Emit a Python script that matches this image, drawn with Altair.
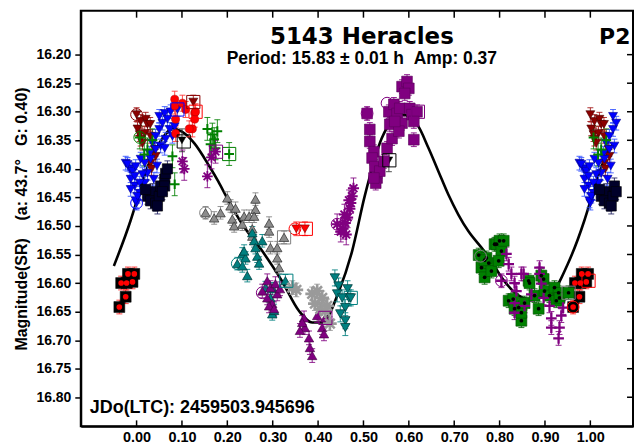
import altair as alt
import pandas as pd

# ---------------- data ----------------
x_ticks = [0.00, 0.10, 0.20, 0.30, 0.40, 0.50, 0.60, 0.70, 0.80, 0.90, 1.00]
y_ticks = [16.20, 16.25, 16.30, 16.35, 16.40, 16.45, 16.50, 16.55, 16.60, 16.65, 16.70, 16.75, 16.80]

curve_x = [-0.05, -0.013, 0.0, 0.025, 0.05, 0.08, 0.10, 0.127, 0.16, 0.18, 0.20, 0.233, 0.277, 0.32,
           0.358, 0.387, 0.409, 0.446, 0.475, 0.503, 0.54, 0.585, 0.618, 0.643, 0.665, 0.687, 0.709,
           0.731, 0.760, 0.782, 0.80, 0.864, 0.914, 0.95, 0.987, 1.0, 1.025, 1.05]
curve_y = [16.57, 16.49, 16.457, 16.395, 16.355, 16.33, 16.335, 16.355, 16.395, 16.422, 16.452, 16.497,
           16.544, 16.596, 16.649, 16.669, 16.669, 16.614, 16.544, 16.447, 16.347, 16.305, 16.322, 16.363,
           16.404, 16.445, 16.48, 16.509, 16.538, 16.561, 16.585, 16.628, 16.617, 16.567, 16.49, 16.457,
           16.395, 16.355]

rb_x = [0.962, 0.976, 0.966, 0.981, 0.995, 0.991, 0.978]
rb_y = [16.642, 16.624, 16.600, 16.584, 16.584, 16.598, 16.600]

bl_x = [0.000, -0.024, -0.015, -0.009, -0.002, -0.013, -0.004, 0.007, -0.002, 0.018, 0.024, 0.018, 0.029,
        0.035, 0.042, 0.050, 0.057, 0.050, 0.062, 0.068, 0.075, 0.073, 0.064, 0.053, 0.042, 0.062, 0.084,
        0.079, 0.031, 0.009, 0.013, 0.007, -0.004, -0.020, -0.013, 0.002, 0.045, 0.038, 0.026, 0.090]
bl_y = [16.460, 16.390, 16.400, 16.404, 16.396, 16.418, 16.430, 16.443, 16.456, 16.425, 16.408, 16.390, 16.373,
        16.355, 16.343, 16.331, 16.320, 16.308, 16.303, 16.313, 16.300, 16.331, 16.348, 16.360, 16.366, 16.364,
        16.326, 16.343, 16.383, 16.383, 16.410, 16.425, 16.413, 16.392, 16.436, 16.448, 16.395, 16.418, 16.440,
        16.296]

dr_x = [0.000, 0.009, 0.020, 0.024, 0.002, 0.030, 0.007, 0.018, 0.031, 0.009, 0.040, 0.042, 0.031, 0.013,
        0.033, 0.125]
dr_y = [16.305, 16.317, 16.313, 16.322, 16.330, 16.322, 16.340, 16.338, 16.343, 16.348, 16.366, 16.378, 16.390,
        16.355, 16.400, 16.283]

bk_x = [0.024, 0.035, 0.031, 0.042, 0.050, 0.053, 0.062, 0.064, 0.068, 0.062, 0.046, 0.020, 0.057]
bk_y = [16.448, 16.440, 16.456, 16.460, 16.448, 16.430, 16.418, 16.408, 16.400, 16.430, 16.465, 16.436, 16.440]

gp_x = [0.007, 0.024, 0.035, 0.079, 0.084, 0.156, 0.167, 0.171, 0.163, 0.174, 0.178, 0.017, 0.204]
gp_y = [16.345, 16.366, 16.350, 16.378, 16.427, 16.330, 16.340, 16.348, 16.357, 16.364, 16.334, 16.375, 16.374]

rc_x = [0.084, 0.084, 0.101, 0.108, 0.128, 0.128, 0.123, 0.116, 0.086, 0.086, 0.130]
rc_y = [16.278, 16.290, 16.285, 16.296, 16.302, 16.313, 16.330, 16.330, 16.313, 16.338, 16.300]

pa_x = [0.101, 0.105, 0.156, 0.165, 0.174]
pa_y = [16.387, 16.400, 16.413, 16.380, 16.370]

gt_x = [0.152, 0.171, 0.185, 0.200, 0.207, 0.211, 0.218, 0.215, 0.237, 0.233, 0.248, 0.262, 0.262, 0.259,
        0.255, 0.255, 0.292, 0.292, 0.295, 0.310, 0.310, 0.314, 0.325]
gt_y = [16.477, 16.486, 16.477, 16.451, 16.465, 16.488, 16.469, 16.500, 16.483, 16.497, 16.483, 16.453, 16.471,
        16.483, 16.505, 16.518, 16.495, 16.509, 16.538, 16.538, 16.556, 16.573, 16.520]

tt_x = [0.222, 0.233, 0.233, 0.244, 0.240, 0.237, 0.255, 0.259, 0.262, 0.266, 0.270, 0.277, 0.284, 0.295,
        0.299, 0.299, 0.303, 0.328]
tt_y = [16.566, 16.549, 16.570, 16.587, 16.556, 16.544, 16.512, 16.526, 16.538, 16.553, 16.565, 16.526, 16.608,
        16.626, 16.610, 16.654, 16.648, 16.596]

pt_x = [0.277, 0.288, 0.295, 0.288, 0.299, 0.310, 0.306, 0.316, 0.369, 0.371, 0.380, 0.382, 0.387, 0.360,
        0.365, 0.398, 0.409, 0.413, 0.292, 0.303, 0.416]
pt_y = [16.614, 16.596, 16.608, 16.626, 16.636, 16.619, 16.601, 16.610, 16.661, 16.678, 16.696, 16.713, 16.727,
        16.683, 16.669, 16.657, 16.678, 16.689, 16.640, 16.645, 16.661]

ga_x = [0.343, 0.387, 0.393, 0.409, 0.416, 0.426, 0.398, 0.405, 0.420, 0.352]
ga_y = [16.608, 16.619, 16.636, 16.626, 16.649, 16.671, 16.614, 16.645, 16.640, 16.612]

td_x = [0.437, 0.442, 0.453, 0.460, 0.460, 0.449, 0.468, 0.445, 0.465, 0.460, 0.472]
td_y = [16.591, 16.619, 16.626, 16.643, 16.666, 16.654, 16.626, 16.605, 16.610, 16.678, 16.626]

rd_x = [0.352, 0.371]
rd_y = [16.505, 16.505]

kt_x = [0.100, 0.556]
kt_y = [16.350, 16.385]

ps_x = [0.508, 0.514, 0.514, 0.523, 0.519, 0.525, 0.530, 0.527, 0.536, 0.545, 0.552, 0.563, 0.558, 0.556,
        0.567, 0.574, 0.580, 0.585, 0.596, 0.600, 0.591, 0.585, 0.578, 0.602, 0.607, 0.618, 0.611, 0.611,
        0.569, 0.523]
ps_y = [16.303, 16.331, 16.352, 16.370, 16.381, 16.396, 16.416, 16.425, 16.404, 16.387, 16.364, 16.347, 16.322,
        16.300, 16.287, 16.303, 16.294, 16.256, 16.247, 16.259, 16.268, 16.320, 16.334, 16.294, 16.305, 16.300,
        16.317, 16.349, 16.317, 16.416]

pa2_x = [0.442, 0.455, 0.460, 0.465, 0.470, 0.475, 0.478, 0.450, 0.462, 0.458, 0.468, 0.472]
pa2_y = [16.497, 16.505, 16.495, 16.485, 16.470, 16.448, 16.434, 16.510, 16.515, 16.480, 16.455, 16.460]

gs_x = [0.754, 0.760, 0.767, 0.776, 0.771, 0.782, 0.789, 0.793, 0.800, 0.804, 0.798, 0.809, 0.767, 0.820,
        0.830, 0.833, 0.842, 0.848, 0.848, 0.855, 0.864, 0.866, 0.877, 0.886, 0.892, 0.897, 0.899, 0.910,
        0.921, 0.930, 0.925, 0.932, 0.952]
gs_y = [16.551, 16.573, 16.590, 16.565, 16.556, 16.579, 16.532, 16.532, 16.526, 16.544, 16.561, 16.526, 16.560,
        16.631, 16.628, 16.645, 16.643, 16.666, 16.652, 16.635, 16.596, 16.600, 16.622, 16.645, 16.587, 16.593,
        16.614, 16.622, 16.608, 16.617, 16.631, 16.626, 16.617]

pp_x = [0.804, 0.815, 0.820, 0.826, 0.833, 0.837, 0.853, 0.833, 0.833, 0.855, 0.888, 0.892, 0.897, 0.910,
        0.914, 0.914, 0.932, 0.930, 0.936, 0.940, 0.888, 0.848, 0.870]
pp_y = [16.596, 16.549, 16.567, 16.584, 16.600, 16.614, 16.584, 16.635, 16.652, 16.640, 16.584, 16.601, 16.626,
        16.640, 16.662, 16.678, 16.678, 16.697, 16.657, 16.643, 16.573, 16.584, 16.620]

# typical error (mag) of each session
err = {"rb": 0.012, "bl": 0.012, "dr": 0.012, "bk": 0.014, "gp": 0.02, "rc": 0.014, "pa": 0.02,
       "gt": 0.011, "tt": 0.011, "pt": 0.012, "ga": 0.012, "td": 0.014, "rd": 0.012, "kt": 0.02,
       "ps": 0.012, "pa2": 0.018, "gs": 0.012, "pp": 0.012}

# first (circled) and last (boxed) observation of sessions
circ_x = [0.962, 0.000, 0.007, 0.000, 0.152, 0.222, 0.277, 0.349, 0.442, 0.508, 0.552, 0.758, 0.804]
circ_y = [16.642, 16.305, 16.345, 16.460, 16.477, 16.566, 16.617, 16.505, 16.497, 16.303, 16.285, 16.553, 16.596]
circ_g = ["rb", "dr", "gp", "bl", "gt", "tt", "pt", "rd", "pa2", "ps", "ps", "gs", "pp"]
sq_x = [0.996, 0.125, 0.130, 0.090, 0.104, 0.557, 0.204, 0.175, 0.325, 0.330, 0.373, 0.472, 0.416, 0.620, 0.952]
sq_y = [16.596, 16.283, 16.300, 16.296, 16.352, 16.385, 16.374, 16.370, 16.520, 16.596, 16.505, 16.626,
        16.661, 16.300, 16.617]
sq_g = ["rb", "dr", "rc", "bl", "kt", "kt", "gp", "pa", "gt", "tt", "rd", "td", "pt", "ps", "gs"]

# ---------------- styles ----------------
PLUS = "M-1,0L1,0M0,-1L0,1"
STAR = "M-1,0L1,0M0,-1L0,1M-0.7,-0.7L0.7,0.7M-0.7,0.7L0.7,-0.7"
STYLE = {
    "rb": dict(shape="square", size=120, fill="#000000", stroke="#000000", sw=0.5, ecol="#ff2020", ann="#ff0000"),
    "bl": dict(shape="triangle-down", size=80, fill="#0000ff", stroke="#00008b", sw=0.6, ecol="#3050ff", ann="#0000ff"),
    "dr": dict(shape="triangle-down", size=80, fill="#8b0000", stroke="#4a0000", sw=0.6, ecol="#a01010", ann="#8b0000"),
    "bk": dict(shape="square", size=105, fill="#00002a", stroke="#000000", sw=0.6, ecol="#202060", ann="#000000"),
    "gp": dict(shape=PLUS, size=95, fill="transparent", stroke="#008000", sw=2.0, ecol="#008000", ann="#008000"),
    "rc": dict(shape="circle", size=65, fill="#ff0000", stroke="#b00000", sw=0.5, ecol="#ff3030", ann="#ff0000"),
    "pa": dict(shape=STAR, size=115, fill="transparent", stroke="#800080", sw=1.8, ecol="#800080", ann="#800080"),
    "gt": dict(shape="triangle-up", size=90, fill="#8c8c8c", stroke="#3a3a3a", sw=0.8, ecol="#808080", ann="#808080"),
    "tt": dict(shape="triangle-up", size=90, fill="#008080", stroke="#004040", sw=0.8, ecol="#008080", ann="#008080"),
    "pt": dict(shape="triangle-up", size=90, fill="#800080", stroke="#400040", sw=0.6, ecol="#800080", ann="#800080"),
    "ga": dict(shape=STAR, size=190, fill="transparent", stroke="#9a9a9a", sw=2.6, ecol="#9a9a9a", ann="#808080"),
    "td": dict(shape="triangle-down", size=90, fill="#008080", stroke="#004040", sw=0.8, ecol="#008080", ann="#008080"),
    "rd": dict(shape="triangle-down", size=80, fill="#ff0000", stroke="#800000", sw=0.6, ecol="#ff2020", ann="#ff0000"),
    "kt": dict(shape="triangle-down", size=60, fill="#000000", stroke="#000000", sw=0.5, ecol="#303030", ann="#000000"),
    "ps": dict(shape="square", size=115, fill="#800080", stroke="#5a005a", sw=0.6, ecol="#800080", ann="#800080"),
    "pa2": dict(shape=STAR, size=125, fill="transparent", stroke="#800080", sw=2.0, ecol="#800080", ann="#800080"),
    "gs": dict(shape="square", size=120, fill="#008000", stroke="#004d00", sw=0.6, ecol="#006400", ann="#808080"),
    "pp": dict(shape=PLUS, size=115, fill="transparent", stroke="#800080", sw=2.3, ecol="#800080", ann="#800080"),
}
INNER = {"rb": ("#ff0000", 32), "gs": ("#000000", 14)}

groups = [("rb", rb_x, rb_y), ("dr", dr_x, dr_y), ("bl", bl_x, bl_y), ("bk", bk_x, bk_y),
          ("rc", rc_x, rc_y), ("gp", gp_x, gp_y), ("pa", pa_x, pa_y), ("gt", gt_x, gt_y),
          ("tt", tt_x, tt_y), ("pt", pt_x, pt_y), ("ga", ga_x, ga_y), ("td", td_x, td_y),
          ("rd", rd_x, rd_y), ("kt", kt_x, kt_y), ("pa2", pa2_x, pa2_y), ("ps", ps_x, ps_y),
          ("gs", gs_x, gs_y), ("pp", pp_x, pp_y)]

rows, inner_rows = [], []
for g, xs_, ys_ in groups:
    st = STYLE[g]
    for xv, yv in zip(xs_, ys_):
        p = round(xv % 1.0, 4)
        pos = [p]
        if p >= 0.955:
            pos.append(round(p - 1.0, 4))
        if p <= 0.06:
            pos.append(round(p + 1.0, 4))
        for px in pos:
            rows.append(dict(g=g, x=px, y=yv, lo=yv - err[g], hi=yv + err[g], shape=st["shape"],
                             size=st["size"], fill=st["fill"], stroke=st["stroke"], sw=st["sw"],
                             ecol=st["ecol"]))
            if g in INNER:
                inner_rows.append(dict(x=px, y=yv, col=INNER[g][0], size=INNER[g][1]))
df = pd.DataFrame(rows)
df_inner = pd.DataFrame(inner_rows)
df_circ = pd.DataFrame({"x": circ_x, "y": circ_y, "col": [STYLE[g]["ann"] for g in circ_g]})
df_sq = pd.DataFrame({"x": sq_x, "y": sq_y, "col": [STYLE[g]["ann"] for g in sq_g]})
df_curve = pd.DataFrame({"x": curve_x, "y": curve_y})

# ---------------- chart ----------------
W, H = 554, 417
xs = alt.Scale(domain=[-0.123, 1.094], nice=False, zero=False)
ys = alt.Scale(domain=[16.123, 16.851], nice=False, zero=False, reverse=True)
FONT = "Liberation Sans"
NB = "\u00a0"
Y_TITLE = f"Magnitude(SR){NB}{NB}{NB}{NB}(a:{NB}43.7°{NB}{NB}{NB}G:{NB}0.40)"

x_axis = alt.Axis(values=x_ticks, format=".2f", labelFont=FONT, labelFontSize=14.5, labelFontWeight="bold",
                  labelColor="black", ticks=False, labelPadding=4, domainColor="black", domainWidth=2,
                  grid=False, title=None)
y_axis = alt.Axis(values=y_ticks, format=".2f", labelFont=FONT, labelFontSize=14, labelFontWeight="bold",
                  labelColor="black", tickSize=6, tickColor="black", tickWidth=1.5, labelPadding=4,
                  domainColor="black", domainWidth=2, grid=False,
                  title=Y_TITLE, titleFont=FONT, titleFontSize=16,
                  titleFontWeight="bold", titleColor="black", titlePadding=6)


def X(f="x"):
    return alt.X(f"{f}:Q", scale=xs, axis=x_axis, title=None)


def Y(f="y"):
    return alt.Y(f"{f}:Q", scale=ys, axis=y_axis, title=Y_TITLE)


curve = alt.Chart(df_curve).mark_line(color="black", strokeWidth=2.6, interpolate="monotone").encode(
    x=X(), y=Y(), order="x:Q")

ebar = alt.Chart(df).mark_rule(strokeWidth=1, opacity=0.85).encode(
    x=X(), y=Y("lo"), y2="hi:Q", color=alt.Color("ecol:N", scale=None))
cap_lo = alt.Chart(df).mark_tick(orient="horizontal", size=6, thickness=1, opacity=0.85).encode(
    x=X(), y=Y("lo"), color=alt.Color("ecol:N", scale=None))
cap_hi = alt.Chart(df).mark_tick(orient="horizontal", size=6, thickness=1, opacity=0.85).encode(
    x=X(), y=Y("hi"), color=alt.Color("ecol:N", scale=None))

pts = alt.Chart(df).mark_point(opacity=1).encode(
    x=X(), y=Y(),
    shape=alt.Shape("shape:N", scale=None),
    size=alt.Size("size:Q", scale=None),
    fill=alt.Fill("fill:N", scale=None),
    stroke=alt.Stroke("stroke:N", scale=None),
    strokeWidth=alt.StrokeWidth("sw:Q", scale=None))

inner = alt.Chart(df_inner).mark_point(opacity=1, filled=True, shape="circle").encode(
    x=X(), y=Y(), color=alt.Color("col:N", scale=None), size=alt.Size("size:Q", scale=None))

ann_c = alt.Chart(df_circ).mark_point(shape="circle", size=140, strokeWidth=1, opacity=1, fill="transparent").encode(
    x=X(), y=Y(), stroke=alt.Stroke("col:N", scale=None))
ann_s = alt.Chart(df_sq).mark_point(shape="square", size=175, strokeWidth=1, opacity=1, fill="transparent").encode(
    x=X(), y=Y(), stroke=alt.Stroke("col:N", scale=None))

tick_top = alt.Chart(pd.DataFrame({"x": x_ticks})).mark_rule(color="black", strokeWidth=1.5).encode(
    x=X(), y=alt.value(0), y2=alt.value(7))
tick_bot = alt.Chart(pd.DataFrame({"x": x_ticks})).mark_rule(color="black", strokeWidth=1.5).encode(
    x=X(), y=alt.value(H), y2=alt.value(H - 6))
tick_right = alt.Chart(pd.DataFrame({"y": y_ticks})).mark_rule(color="black", strokeWidth=1.5).encode(
    y=Y(), x=alt.value(W), x2=alt.value(W - 6))


def label(text, x, y, size, font, align):
    return alt.Chart(pd.DataFrame({"t": [text]})).mark_text(
        font=font, fontSize=size, fontWeight="bold", align=align, baseline="alphabetic", color="black"
    ).encode(text="t:N", x=alt.value(x), y=alt.value(y))


t1 = label("5143 Heracles", 282, 33, 23, "DejaVu Sans", "center")
t2 = label(f"Period: 15.83 ± 0.01 h{NB}{NB}Amp: 0.37", 282, 53, 17.5, FONT, "center")
t3 = label("P2", 520, 33, 22, "DejaVu Sans", "left")
t4 = label("JDo(LTC): 2459503.945696", 9, 404, 18, FONT, "left")

chart = alt.layer(
    curve, ebar, cap_lo, cap_hi, pts, inner, ann_c, ann_s, tick_top, tick_bot, tick_right, t1, t2, t3, t4
).properties(
    width=W, height=H, padding={"left": 5, "top": 1, "right": 0, "bottom": 0}, background="white"
).configure_view(stroke="black", strokeWidth=2)

chart.save("out.html", embed_options={"renderer": "svg", "actions": False})
